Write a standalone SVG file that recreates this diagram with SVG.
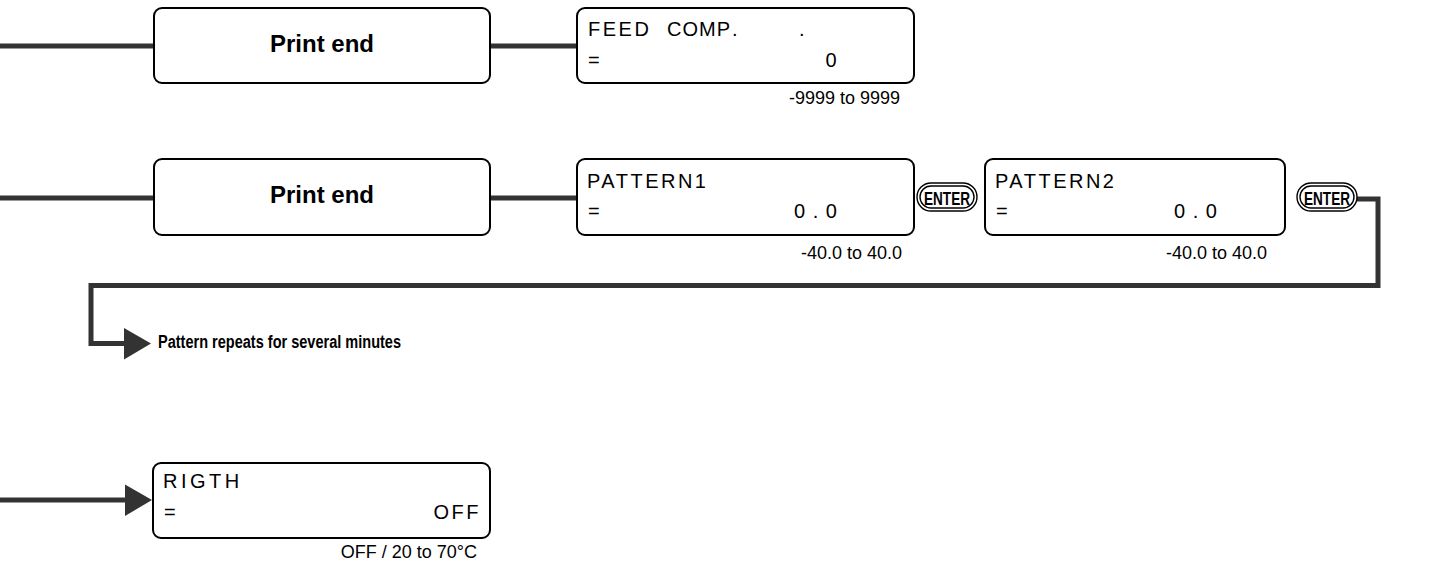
<svg xmlns="http://www.w3.org/2000/svg" width="1447" height="567" viewBox="0 0 1447 567">
<style>
.box{fill:#fff;stroke:#000;stroke-width:2}
.wire{fill:none;stroke:#333;stroke-width:5}
.title{font-family:"Liberation Sans",Arial,sans-serif;font-weight:bold;font-size:24px;fill:#000;text-anchor:middle}
.lcd{font-family:"Liberation Sans",Arial,sans-serif;font-size:20px;fill:#000;letter-spacing:2.5px}
.num{letter-spacing:1px}
.rng{font-family:"Liberation Sans",Arial,sans-serif;font-size:18px;fill:#000;text-anchor:end}
.note{font-family:"Liberation Sans",Arial,sans-serif;font-weight:bold;font-size:17.5px;fill:#000}
.btn{fill:#fff;stroke:#000;stroke-width:1.4}
.btxt{font-family:"Liberation Sans",Arial,sans-serif;font-weight:bold;font-size:19px;fill:#000}
</style>
<defs>
<marker id="arr" markerUnits="userSpaceOnUse" markerWidth="28" markerHeight="34" refX="2" refY="16" orient="auto" viewBox="0 0 28 34">
<path d="M0,0.5 L27,16 L0,32 Z" fill="#333"/>
</marker>
</defs>
<g id="connectors">
<path class="wire" d="M0,46 H154"/>
<path class="wire" d="M490,46 H577"/>
<path class="wire" d="M0,198 H154"/>
<path class="wire" d="M490,198 H577"/>
<path class="wire" d="M1357,199 H1378 V285.5 H91 V343.5 H126" marker-end="url(#arr)"/>
<path class="wire" d="M0,500 H127" marker-end="url(#arr)"/>
</g>
<g id="print-end-1">
<rect class="box" x="154" y="8" width="336" height="75" rx="8"/>
<text class="title" x="322" y="52">Print end</text>
</g>
<g id="feed-comp">
<rect class="box" x="577" y="8" width="337" height="75" rx="8"/>
<text class="lcd" x="588" y="36">FEED <tspan x="667" style="letter-spacing:1px">COMP</tspan><tspan x="732">.</tspan><tspan x="799">.</tspan></text>
<text class="lcd" x="588" y="67">=</text>
<text class="lcd" x="839" y="67" text-anchor="end">0</text>
<text class="rng" x="900" y="104">-9999 to 9999</text>
</g>
<g id="print-end-2">
<rect class="box" x="154" y="159" width="336" height="76" rx="8"/>
<text class="title" x="322" y="203">Print end</text>
</g>
<g id="pattern1">
<rect class="box" x="577" y="159" width="337" height="76" rx="8"/>
<text class="lcd" x="587" y="188">PATTERN1</text>
<text class="lcd" x="588" y="218">=</text>
<text class="lcd num" x="838" y="218" text-anchor="end">0 . 0</text>
<text class="rng" x="902" y="259">-40.0 to 40.0</text>
</g>
<g id="enter-1">
<rect class="btn" x="917" y="183" width="60" height="28" rx="14"/>
<rect class="btn" x="920" y="186" width="54" height="22" rx="11"/>
<text class="btxt" x="924" y="204.5" textLength="46" lengthAdjust="spacingAndGlyphs">ENTER</text>
</g>
<g id="pattern2">
<rect class="box" x="985" y="159" width="300" height="76" rx="8"/>
<text class="lcd" x="995" y="188">PATTERN2</text>
<text class="lcd" x="996" y="218">=</text>
<text class="lcd num" x="1218" y="218" text-anchor="end">0 . 0</text>
<text class="rng" x="1267" y="259">-40.0 to 40.0</text>
</g>
<g id="enter-2">
<rect class="btn" x="1297" y="183" width="60" height="28" rx="14"/>
<rect class="btn" x="1300" y="186" width="54" height="22" rx="11"/>
<text class="btxt" x="1304" y="204.5" textLength="46" lengthAdjust="spacingAndGlyphs">ENTER</text>
</g>
<g id="repeat-note">
<text class="note" x="158" y="348" textLength="243" lengthAdjust="spacingAndGlyphs">Pattern repeats for several minutes</text>
</g>
<g id="rigth">
<rect class="box" x="153" y="463" width="337" height="75" rx="8"/>
<text class="lcd" x="163" y="488" style="letter-spacing:3.5px">RIGTH</text>
<text class="lcd" x="164" y="519">=</text>
<text class="lcd" x="481" y="519" text-anchor="end">OFF</text>
<text class="rng" x="477" y="558">OFF / 20 to 70°C</text>
</g>
</svg>
